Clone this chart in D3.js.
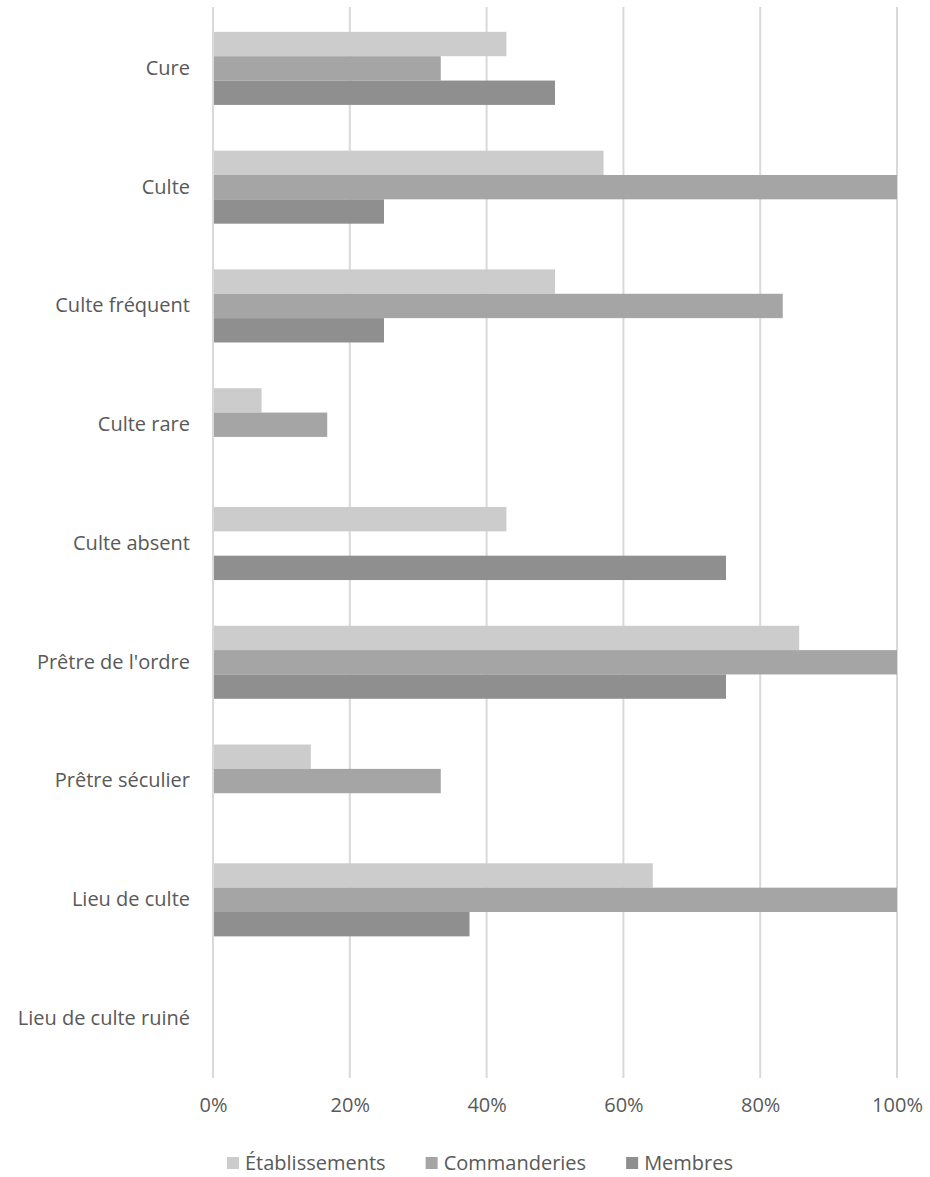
<!DOCTYPE html>
<html>
<head>
<meta charset="utf-8">
<script src="https://cdn.jsdelivr.net/npm/d3@7"></script>
<style>
  html, body { margin: 0; padding: 0; background: #fff; }
  svg { display: block; }
  text { font-family: "Open Sans", "Noto Sans", sans-serif; fill: #595959; }
</style>
</head>
<body>
<svg id="chart" width="930" height="1177"></svg>
<script>
const categories = ["Cure", "Culte", "Culte fréquent", "Culte rare", "Culte absent",
  "Prêtre de l'ordre", "Prêtre séculier", "Lieu de culte", "Lieu de culte ruiné"];
const seriesNames = ["Établissements", "Commanderies", "Membres"];
const etablissements = [42.9, 57.1, 50.0, 7.1, 42.9, 85.7, 14.3, 64.3, 0];
const commanderies   = [33.3, 100, 83.3, 16.7, 0, 100, 33.3, 100, 0];
const membres        = [50.0, 25.0, 25.0, 0, 75.0, 75.0, 0, 37.5, 0];
const xTicks = [0, 20, 40, 60, 80, 100];

const seriesValues = [etablissements, commanderies, membres];
const colors = ["#cccccc", "#a5a5a5", "#8f8f8f"];
const fontSize = "20px";

const svg = d3.select("#chart");
const plotLeft = 213, plotRight = 897, plotTop = 9, plotBottom = 1078;

const x = d3.scaleLinear().domain([0, 100]).range([plotLeft, plotRight]);
const y0 = d3.scaleBand().domain(categories).range([plotTop, plotBottom]);
const groupH = y0.bandwidth() * 0.615;
const y1 = d3.scaleBand().domain(seriesNames).range([0, groupH]);

// gridlines
svg.append("g").selectAll("line").data(xTicks).join("line")
  .attr("x1", d => x(d)).attr("x2", d => x(d))
  .attr("y1", 7).attr("y2", plotBottom)
  .attr("stroke", "#d9d9d9").attr("stroke-width", 2);

// bars
const groups = svg.append("g").selectAll("g").data(categories).join("g")
  .attr("transform", c => `translate(0,${y0(c) + (y0.bandwidth() - groupH) / 2})`);

groups.selectAll("rect")
  .data((c, i) => seriesNames.map((s, j) => ({ s, j, v: seriesValues[j][i] })))
  .join("rect")
  .attr("x", x(0) + 1)
  .attr("y", d => y1(d.s))
  .attr("height", y1.bandwidth())
  .attr("width", d => Math.max(0, x(d.v) - x(0) - 1))
  .attr("fill", d => colors[d.j]);

// category labels
const yAxis = d3.axisLeft(y0).tickSize(0).tickPadding(0);
const yg = svg.append("g").attr("transform", `translate(190,0)`).call(yAxis);
yg.select(".domain").remove();
yg.selectAll("text").style("font-size", fontSize).attr("fill", "#595959")
  .style("font-family", '"Open Sans", "Noto Sans", sans-serif');

// x axis labels
const xAxis = d3.axisBottom(x).tickValues(xTicks).tickFormat(d => d + "%").tickSize(0).tickPadding(0);
const xg = svg.append("g").attr("transform", `translate(0,1098)`).call(xAxis);
xg.select(".domain").remove();
xg.selectAll("text").style("font-size", fontSize).attr("fill", "#595959")
  .style("font-family", '"Open Sans", "Noto Sans", sans-serif');

// legend
const legend = svg.append("g");
const items = legend.selectAll("g").data(seriesNames).join("g");
items.append("rect").attr("width", 12).attr("height", 12).attr("y", -6)
  .attr("fill", (d, i) => colors[i]);
items.append("text").attr("x", 18).attr("dy", "0.35em")
  .style("font-size", fontSize).text(d => d);
const gap = 40;
const widths = [];
items.each(function () {
  const w = 18 + this.querySelector("text").getComputedTextLength();
  widths.push(w);
});
const total = d3.sum(widths) + gap * (widths.length - 1);
let start = 480 - total / 2;
items.attr("transform", (d, i) => {
  const t = `translate(${start},1163)`;
  start += widths[i] + gap;
  return t;
});
</script>
</body>
</html>
